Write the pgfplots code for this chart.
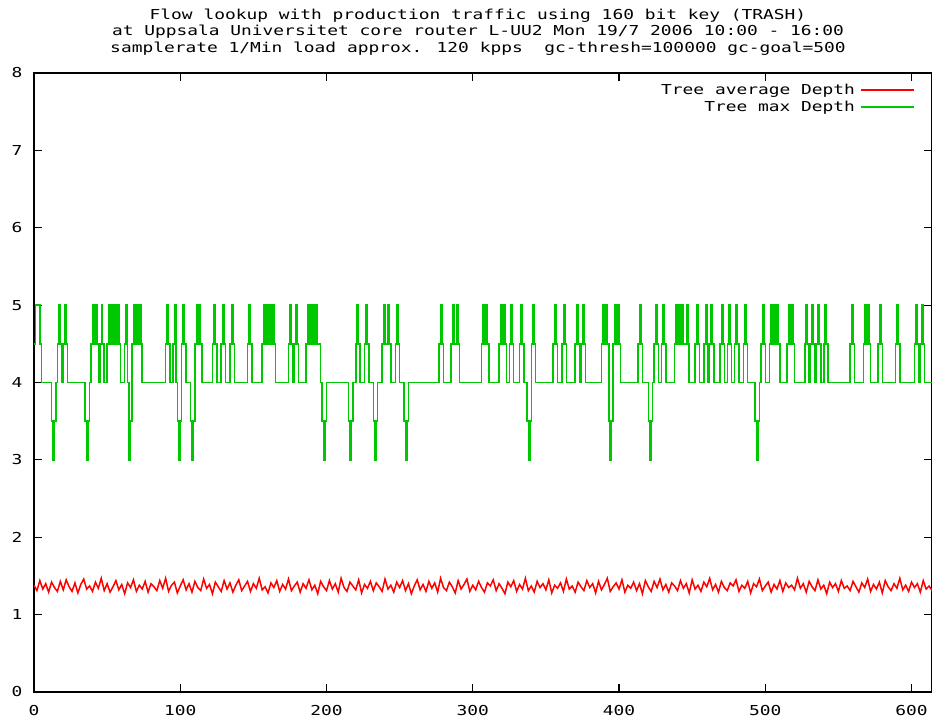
\documentclass[border=0pt]{standalone}
\usepackage{fontspec}
\newfontfamily\gp[FakeStretch=1.305]{DejaVu Sans Mono}
\usepackage{pgfplots}
\pgfplotsset{compat=1.18}
\definecolor{gpred}{RGB}{255,0,0}
\definecolor{gpgreen}{RGB}{0,200,0}
\newcommand{\gpfont}{\fontsize{13.7}{16.5}\selectfont\gp}
\begin{document}
\begin{tikzpicture}[x=1pt,y=1pt]
\useasboundingbox (0,0) rectangle (932,719);
\node[font=\gpfont, align=center, inner sep=0pt] at (478,687) {Flow lookup with production traffic using 160 bit key (TRASH)\\at Uppsala Universitet core router L-UU2 Mon 19/7 2006 10:00 - 16:00\\samplerate 1/Min load approx. 120 kpps\ \ gc-thresh=100000 gc-goal=500};
\begin{axis}[at={(34pt,27pt)}, anchor=south west, scale only axis,
  width=898pt, height=619pt,
  xmin=0, xmax=614, ymin=0, ymax=8,
  xtick={0,100,...,600}, ytick={0,1,...,8},
  tick align=inside, major tick length=8pt,
  ticklabel style={font=\gpfont},
  xticklabel style={yshift=-10pt},
  yticklabel style={xshift=-8pt},
  /pgf/number format/assume math mode=true,
  axis line style={line width=1.2pt},
  every tick/.style={black, line width=1.2pt},
  legend style={at={(0.981,0.986)}, anchor=north east, draw=none, fill=none,
    font=\gpfont, inner sep=0pt, row sep=1.5pt,
    nodes={inner xsep=5pt}},
  legend cell align=right,
  legend plot pos=right,
  legend image code/.code={\draw[#1, line width=1.8pt] (0pt,0pt) -- (53pt,0pt);},
]
\addplot[color=gpred, line width=1.5pt] table[header=false, row sep=\\, x expr=\coordindex*2, y index=0] {
1.38\\1.31\\1.44\\1.33\\1.40\\1.29\\1.42\\1.35\\1.30\\1.43\\1.32\\1.45\\1.36\\1.30\\1.41\\1.28\\1.39\\1.46\\1.33\\1.37\\
1.30\\1.42\\1.34\\1.47\\1.31\\1.40\\1.29\\1.36\\1.44\\1.32\\1.39\\1.27\\1.41\\1.35\\1.45\\1.30\\1.38\\1.33\\1.43\\1.29\\
1.40\\1.36\\1.31\\1.44\\1.34\\1.47\\1.30\\1.38\\1.42\\1.28\\1.37\\1.45\\1.32\\1.40\\1.29\\1.43\\1.35\\1.31\\1.46\\1.34\\
1.39\\1.27\\1.42\\1.36\\1.30\\1.44\\1.33\\1.41\\1.29\\1.38\\1.45\\1.31\\1.37\\1.43\\1.30\\1.40\\1.34\\1.47\\1.32\\1.36\\
1.28\\1.41\\1.35\\1.44\\1.30\\1.39\\1.33\\1.46\\1.31\\1.37\\1.42\\1.29\\1.40\\1.34\\1.45\\1.32\\1.38\\1.27\\1.43\\1.36\\
1.31\\1.44\\1.33\\1.40\\1.29\\1.47\\1.35\\1.30\\1.42\\1.37\\1.32\\1.45\\1.28\\1.39\\1.34\\1.43\\1.31\\1.41\\1.36\\1.30\\
1.46\\1.33\\1.38\\1.29\\1.42\\1.35\\1.44\\1.31\\1.40\\1.27\\1.37\\1.45\\1.32\\1.39\\1.30\\1.43\\1.34\\1.41\\1.29\\1.47\\
1.35\\1.31\\1.42\\1.36\\1.28\\1.44\\1.33\\1.39\\1.46\\1.30\\1.38\\1.32\\1.43\\1.35\\1.29\\1.41\\1.37\\1.45\\1.31\\1.40\\
1.34\\1.27\\1.42\\1.36\\1.44\\1.30\\1.39\\1.33\\1.47\\1.31\\1.37\\1.29\\1.43\\1.35\\1.40\\1.32\\1.45\\1.28\\1.38\\1.34\\
1.41\\1.30\\1.46\\1.33\\1.37\\1.29\\1.42\\1.36\\1.31\\1.44\\1.35\\1.40\\1.28\\1.43\\1.32\\1.39\\1.47\\1.30\\1.36\\1.41\\
1.33\\1.45\\1.29\\1.38\\1.34\\1.42\\1.31\\1.40\\1.27\\1.44\\1.36\\1.30\\1.43\\1.35\\1.46\\1.32\\1.39\\1.29\\1.41\\1.37\\
1.31\\1.44\\1.34\\1.40\\1.28\\1.45\\1.33\\1.38\\1.30\\1.42\\1.36\\1.47\\1.32\\1.39\\1.29\\1.43\\1.35\\1.31\\1.41\\1.37\\
1.45\\1.30\\1.38\\1.34\\1.43\\1.28\\1.40\\1.36\\1.46\\1.31\\1.37\\1.42\\1.29\\1.39\\1.33\\1.44\\1.30\\1.41\\1.35\\1.38\\
1.32\\1.47\\1.34\\1.40\\1.29\\1.43\\1.36\\1.31\\1.45\\1.33\\1.38\\1.27\\1.42\\1.35\\1.40\\1.30\\1.44\\1.34\\1.37\\1.31\\
1.43\\1.36\\1.29\\1.41\\1.35\\1.46\\1.30\\1.39\\1.33\\1.42\\1.28\\1.44\\1.36\\1.31\\1.40\\1.34\\1.47\\1.32\\1.38\\1.30\\
1.42\\1.35\\1.40\\1.29\\1.44\\1.33\\1.37\\1.31\\1.45\\1.36\\1.30\\1.41\\1.34\\1.43\\1.28\\1.39\\1.35\\
};
\addlegendentry{Tree average Depth}
\addplot[color=gpgreen, line width=1.5pt, const plot] coordinates {
(0,4.5)(1,5)(4,4.5)(5,4)
(12,3.5)(13,3)(14,3.5)(15,4)
(16,4.5)(17,5)(18,4.5)(19,4)
(20,4.5)(21,5)(22,4.5)(23,4)
(35,3.5)(36,3)(37,3.5)(38,4)
(39,4.5)(40,5)(41,4.5)(42,5)(43,4.5)(44,4)
(45,4.5)(46,5)(47,4.5)(48,4)
(50,4.5)(51,5)(52,4.5)(53,5)(54,4.5)(55,5)(56,4.5)(57,5)(58,4.5)(59,4)
(62,4.5)(63,5)(64,4)(65,3)(66,3.5)(67,4.5)(68,5)(69,4.5)(70,5)(71,4.5)(72,5)(73,4.5)(74,4)
(90,4.5)(91,5)(92,4.5)(93,4)
(95,4.5)(96,5)(97,4)(98,3.5)(99,3)(100,3.5)(101,4.5)(102,5)(103,4.5)(104,4)
(107,3.5)(108,3)(109,3.5)(110,4.5)(111,5)(112,4.5)(113,5)(114,4.5)(115,4)
(122,4.5)(123,5)(124,4.5)(125,4)
(128,4.5)(129,5)(130,4.5)(131,4)
(134,4.5)(135,5)(136,4.5)(137,4)
(146,4.5)(147,5)(148,4.5)(149,4)
(156,4.5)(157,5)(158,4.5)(159,5)(160,4.5)(161,5)(162,4.5)(163,5)(164,4.5)(165,4)
(174,4.5)(175,5)(176,4.5)(177,4)
(178,4.5)(179,5)(180,4.5)(181,4)
(186,4.5)(187,5)(188,4.5)(189,5)(190,4.5)(191,5)(192,4.5)(193,5)(194,4.5)(196,4)
(197,3.5)(198,3)(199,3.5)(200,4)
(215,3.5)(216,3)(217,3.5)(218,4)
(220,4.5)(221,5)(222,4.5)(223,4)
(226,4.5)(227,5)(228,4.5)(229,4)
(232,3.5)(233,3)(234,3.5)(235,4)
(238,4.5)(239,5)(240,4.5)(242,5)(243,4.5)(244,4)
(247,4.5)(248,5)(249,4.5)(250,4)
(253,3.5)(254,3)(255,3.5)(256,4)
(277,4.5)(278,5)(279,4.5)(280,4)
(285,4.5)(286,5)(287,4.5)(289,5)(290,4.5)(291,4)
(306,4.5)(307,5)(308,4.5)(309,5)(310,4.5)(311,4)
(318,4.5)(319,5)(320,4.5)(321,5)(322,4.5)(323,4)
(325,4.5)(326,5)(327,4.5)(328,4)
(332,4.5)(333,5)(334,4.5)(335,4)
(337,3.5)(338,3)(339,3.5)(340,4.5)(341,5)(342,4.5)(343,4)
(355,4.5)(356,5)(357,4.5)(358,4)
(361,4.5)(362,5)(363,4.5)(364,4)
(370,4.5)(371,5)(372,4.5)(373,4)(374,4.5)(375,5)(376,4.5)(377,4)
(388,4.5)(389,5)(390,4.5)(391,5)(392,4.5)(393,3.5)(394,3)(395,3.5)(396,4.5)(397,5)(398,4.5)(399,5)(400,4.5)(401,4)
(413,4.5)(414,5)(415,4.5)(416,4)
(420,3.5)(421,3)(422,3.5)(423,4)
(424,4.5)(425,5)(426,4.5)(427,4)
(429,4.5)(430,5)(431,4.5)(432,4)
(438,4.5)(439,5)(440,4.5)(441,5)(442,4.5)(443,5)(444,4.5)(446,5)(447,4.5)(448,4)
(452,4.5)(453,5)(454,4.5)(455,4)
(458,4.5)(459,5)(460,4.5)(461,4)
(462,4.5)(463,5)(464,4.5)(465,4)
(469,4.5)(470,5)(471,4.5)(472,4)
(474,4.5)(475,5)(476,4.5)(477,4)
(479,4.5)(480,5)(481,4.5)(482,4)
(485,4.5)(486,5)(487,4.5)(488,4)
(493,3.5)(494,3)(495,3.5)(496,4)
(497,4.5)(498,5)(499,4.5)(500,4)
(503,4.5)(504,5)(505,4.5)(506,5)(507,4.5)(508,5)(509,4.5)(510,4)
(515,4.5)(516,5)(517,4.5)(518,5)(519,4.5)(520,4)
(527,4.5)(528,5)(529,4.5)(530,4)
(531,4.5)(532,5)(533,4.5)(534,4)
(535,4.5)(536,5)(537,4.5)(538,4)
(540,4.5)(541,5)(542,4.5)(543,4)
(558,4.5)(559,5)(560,4.5)(561,4)
(567,4.5)(568,5)(569,4.5)(570,5)(571,4.5)(572,4)
(577,4.5)(578,5)(579,4.5)(580,4)
(589,4.5)(590,5)(591,4.5)(592,4)
(602,4.5)(603,5)(604,4.5)(605,4)
(606,4.5)(607,5)(608,4.5)(609,4)
(614,4)
};
\addlegendentry{Tree max Depth}
\end{axis}
\end{tikzpicture}
\end{document}
